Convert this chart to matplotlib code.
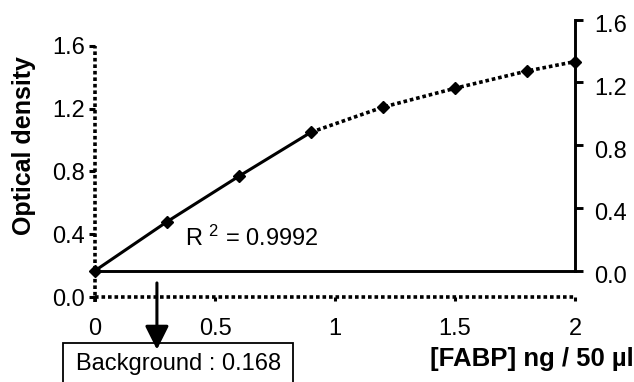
import matplotlib
matplotlib.use('AGG')
import matplotlib.pyplot as plt
from matplotlib.patches import Rectangle
from matplotlib.transforms import ScaledTranslation

# FABP standard curve
conc = [0.0, 0.3, 0.6, 0.9, 1.2, 1.5, 1.8, 2.0]
od = [0.168, 0.48, 0.77, 1.05, 1.21, 1.33, 1.44, 1.50]
n_linear = 4          # points in the fitted (solid) range
background = 0.168
r2_text = r'R ${}^{2}$ = 0.9992'
x_ticks = [0, 0.5, 1, 1.5, 2]
x_tick_labels = ['0', '0.5', '1', '1.5', '2']
y_ticks = [0.0, 0.4, 0.8, 1.2, 1.6]

plt.rcParams['font.family'] = ['Liberation Sans', 'DejaVu Sans']
plt.rcParams['mathtext.fontset'] = 'custom'
plt.rcParams['mathtext.rm'] = 'Liberation Sans'
plt.rcParams['mathtext.it'] = 'Liberation Sans'
DOT = (0, (1, 0.8))
LW = 2.1
DLW = 2.6   # dotted lines
FS = 17

fig = plt.figure(figsize=(6.34, 3.82), dpi=100)
ax = fig.add_axes([95 / 634, 0.2018, 480 / 634, 0.752])
ylo, yhi = -0.05, 1.78
ax.set_xlim(0, 2)
ax.set_ylim(ylo, yhi)

# right axis is the background-subtracted scale
ax2 = ax.twinx()
ax2.set_ylim(ylo - background, yhi - background)

# left/bottom axis lines are dotted, drawn by hand
for s in ['top', 'right', 'left', 'bottom']:
    ax.spines[s].set_visible(False)
ax.vlines(0, -0.03, y_ticks[-1], colors='black', linewidth=DLW,
          linestyles=[DOT], clip_on=False)
ax.hlines(0, x_ticks[0], x_ticks[-1], colors='black', linewidth=DLW,
          linestyles=[DOT], clip_on=False)

for s in ['left', 'top', 'bottom']:
    ax2.spines[s].set_visible(False)
ax2.spines['right'].set_bounds(0, 1.6)
ax2.spines['right'].set_linewidth(LW)

ax.set_xticks(x_ticks)
ax.set_xticklabels(x_tick_labels)
ax.set_yticks(y_ticks)
ax.set_yticklabels(['%.1f' % v for v in y_ticks])
ax.tick_params(axis='x', direction='out', length=3, width=2.2, pad=12, labelsize=FS)
ax.tick_params(axis='y', direction='out', length=4, width=2.2, pad=3, labelsize=FS)
# x ticks hang from the y=0 line, not the bottom of the axes
xshift = ScaledTranslation(0, 0.05 * 287.5 / 1.83 / 100, fig.dpi_scale_trans)
for t in ax.xaxis.get_major_ticks():
    t.tick1line.set_transform(t.tick1line.get_transform() + xshift)
    t.label1.set_transform(t.label1.get_transform() + xshift)

ax2.set_yticks(y_ticks)
ax2.set_yticklabels(['%.1f' % v for v in y_ticks])
ax2.tick_params(axis='y', direction='out', length=6, width=LW, pad=8, labelsize=FS)
shift = ScaledTranslation(0, -4 / 100, fig.dpi_scale_trans)
for lab in ax2.get_yticklabels():
    lab.set_transform(lab.get_transform() + shift)

# baseline at background level
ax.hlines(background, conc[0], conc[-1], colors='black', linewidth=LW, clip_on=False)

# curve: solid over the fitted range, dotted beyond
ax.plot(conc[:n_linear], od[:n_linear], color='black', linewidth=2.2, clip_on=False)
ax.plot(conc[n_linear - 1:], od[n_linear - 1:], color='black', linewidth=DLW,
        linestyle=DOT, clip_on=False)
ax.plot(conc, od, linestyle='none', marker='D', markersize=6.5, color='black',
        clip_on=False, zorder=5)

ax.text(0.375, 0.376, r2_text, fontsize=FS, ha='left', va='center')

# background annotation
ax.annotate('', xy=(0.258, -0.335), xytext=(0.258, 0.09),
            xycoords='data', annotation_clip=False,
            arrowprops=dict(arrowstyle='-|>,head_length=0.8,head_width=0.4',
                            color='black', lw=2.2, mutation_scale=18,
                            shrinkA=0, shrinkB=0))
fig.patches.append(Rectangle((63 / 634, -0.05), 230 / 634, 0.152,
                             transform=fig.transFigure, fill=False,
                             edgecolor='black', linewidth=1.3))
fig.text(0.282, 0.047, 'Background : 0.168', fontsize=FS, ha='center', va='center')

fig.text(24 / 634, 1 - 146 / 382, 'Optical density', fontsize=18, fontweight='bold',
         rotation=90, ha='center', va='center')
fig.text(634 / 634, 1 - 359 / 382, u'[FABP] ng / 50 \u00b5l', fontsize=18.5,
         fontweight='bold', ha='right', va='center')

fig.savefig('out.png', dpi=100)
